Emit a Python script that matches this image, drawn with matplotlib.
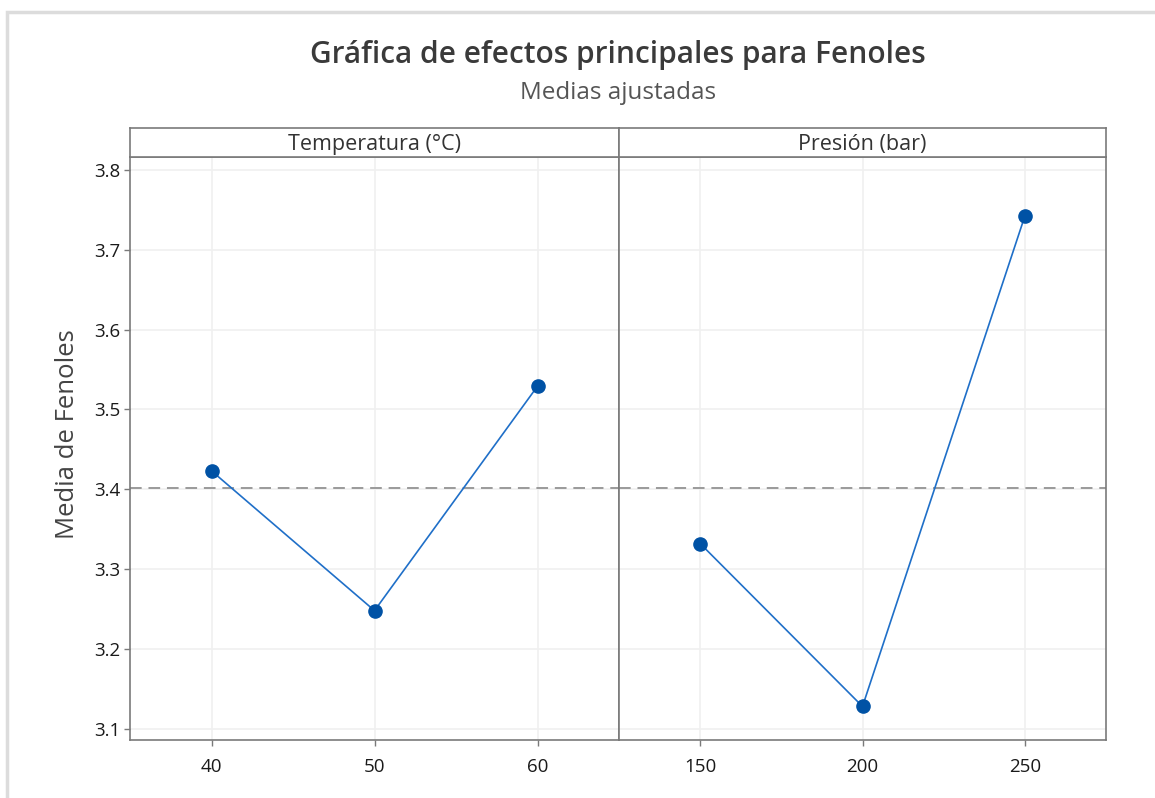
import numpy as np
import matplotlib
matplotlib.use('Agg')
import matplotlib.pyplot as plt
from matplotlib.patches import Rectangle

# Medias ajustadas por factor
temp_levels = ['40', '50', '60']
temp_means = [3.423, 3.248, 3.529]
pres_levels = ['150', '200', '250']
pres_means = [3.332, 3.128, 3.742]
grand_mean = 3.401

y_ticks = [3.1, 3.2, 3.3, 3.4, 3.5, 3.6, 3.7, 3.8]
y_lim = (3.086, 3.816)

plt.rcParams['font.family'] = ['Open Sans', 'DejaVu Sans']

frame_col = '#7a7a7a'
grid_col = '#f0f0f0'
line_col = '#1f6fc8'
marker_col = '#0052a5'
text_col = '#333333'

fig = plt.figure(figsize=(11.55, 7.98), dpi=100)

# outer light frame
fig.patches.append(Rectangle((7/1155, -0.1), 1.2, 1 - 12/798 + 0.1, transform=fig.transFigure,
                             fill=False, edgecolor='#dcdcdc', linewidth=2.5))

panels = [
    ('Temperatura (°C)', temp_levels, temp_means, [130, 619]),
    ('Presión (bar)', pres_levels, pres_means, [619, 1106]),
]

for i, (name, levels, means, (x0, x1)) in enumerate(panels):
    ax = fig.add_axes([x0/1155, 1 - 740/798, (x1 - x0)/1155, 583/798])
    xs = np.arange(len(levels))
    ax.axhline(grand_mean, color='#9a9a9a', linestyle=(0, (6, 3.5)), linewidth=1.4, zorder=1)
    ax.plot(xs, means, color=line_col, linewidth=1.2, zorder=2)
    ax.plot(xs, means, 'o', color=marker_col, markersize=9.5, zorder=3)
    ax.set_xlim(-0.5, 2.5)
    ax.set_ylim(*y_lim)
    ax.set_xticks(xs)
    ax.set_xticklabels(levels)
    ax.set_yticks(y_ticks)
    ax.grid(True, color=grid_col, linewidth=1.2)
    ax.set_axisbelow(True)
    for sp in ax.spines.values():
        sp.set_color(frame_col)
        sp.set_linewidth(1.2)
    ax.tick_params(axis='both', direction='out', length=4, width=1, color=frame_col,
                   labelsize=13.5, labelcolor='#1a1a1a', pad=9)
    ax.tick_params(axis='y', pad=3)
    if i == 0:
        ax.set_yticklabels([f'{v:.1f}' for v in y_ticks])
        ax.set_ylabel('Media de Fenoles', fontsize=18.5, color='#444444')
        # centred on panel plus strip header
        ax.yaxis.set_label_coords(-0.102, 0.525)
    else:
        ax.tick_params(axis='y', left=False, labelleft=False)

    # strip header
    sx = fig.add_axes([x0/1155, 1 - 157/798, (x1 - x0)/1155, 29/798])
    sx.set_xticks([])
    sx.set_yticks([])
    for sp in sx.spines.values():
        sp.set_color(frame_col)
        sp.set_linewidth(1.2)
    sx.text(0.5, 0.42, name, ha='center', va='center', fontsize=15.5, color=text_col,
            transform=sx.transAxes)

fig.text(0.535, 1 - 55/798, 'Gráfica de efectos principales para Fenoles', ha='center', va='center',
         fontsize=21.5, fontweight='semibold', color='#3a3a3a')
fig.text(0.535, 1 - 93/798, 'Medias ajustadas', ha='center', va='center',
         fontsize=17.5, color='#555555')

fig.savefig('out.png', dpi=100, facecolor='white')
